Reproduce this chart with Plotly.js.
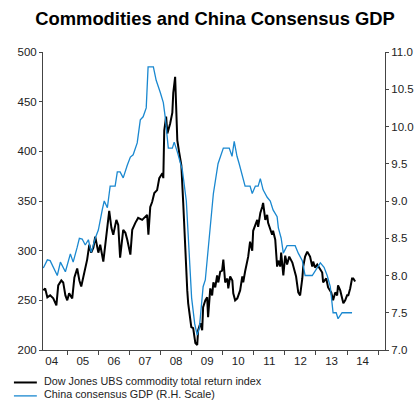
<!DOCTYPE html>
<html>
<head>
<meta charset="utf-8">
<script src="https://cdn.plot.ly/plotly-3.0.1.min.js"></script>
<style>html,body{margin:0;padding:0;background:#fff;}#chart{width:418px;height:400px;}</style>
</head>
<body>
<div id="chart"></div>
<script>
// ---- Data ----
const seriesNames = ["Dow Jones UBS commodity total return index", "China consensus GDP (R.H. Scale)"];
const chartTitle = "Commodities and China Consensus GDP";

// Dow Jones UBS commodity total return index (left scale), x in decimal years
const djYears = [
2004.23,2004.29,2004.36,2004.45,2004.55,2004.65,2004.71,2004.81,2004.87,2004.94,
2005.00,2005.06,2005.16,2005.23,2005.32,2005.39,2005.45,2005.51,2005.64,2005.71,
2005.77,2005.84,2005.90,2006.00,2006.06,2006.16,2006.25,2006.35,2006.42,2006.48,
2006.58,2006.64,2006.70,2006.80,2006.87,2006.93,2007.03,2007.09,2007.19,2007.28,
2007.41,2007.51,2007.57,2007.61,2007.67,2007.73,2007.80,2007.89,2007.96,2008.06,
2008.09,2008.12,2008.18,2008.22,2008.31,2008.38,2008.41,2008.47,2008.54,2008.60,
2008.67,2008.73,2008.79,2008.83,2008.86,2008.89,2008.92,2008.99,2009.05,2009.12,
2009.18,2009.21,2009.28,2009.34,2009.37,2009.44,2009.50,2009.53,2009.60,2009.66,
2009.70,2009.76,2009.82,2009.86,2009.92,2009.98,2010.02,2010.08,2010.15,2010.18,
2010.24,2010.31,2010.34,2010.40,2010.47,2010.50,2010.56,2010.63,2010.66,2010.72,
2010.79,2010.82,2010.88,2010.95,2010.98,2011.05,2011.11,2011.14,2011.21,2011.27,
2011.30,2011.37,2011.43,2011.46,2011.53,2011.59,2011.62,2011.69,2011.75,2011.79,
2011.85,2011.88,2011.95,2012.01,2012.07,2012.14,2012.24,2012.30,2012.36,2012.43,
2012.49,2012.56,2012.59,2012.65,2012.72,2012.81,2012.88,2012.91,2012.97,2013.04,
2013.14,2013.20,2013.23,2013.33,2013.39,2013.49,2013.55,2013.62,2013.68,2013.71,
2013.78,2013.84,2013.88,2013.94,2014.00,2014.04,2014.10,2014.16,2014.20,2014.26];
const djValues = [
260,262,253,255,252,245,265,270,268,255,
250,257,252,273,282,270,264,273,291,306,
298,303,314,298,306,289,312,340,323,316,
331,326,293,321,318,311,296,321,328,333,
331,334,336,316,344,349,358,361,373,378,
373,421,435,418,428,439,459,475,411,399,
386,348,300,270,260,247,240,223,222,207,
205,220,227,220,243,250,253,233,262,255,
268,263,275,268,279,280,291,268,272,262,
274,270,257,250,252,255,260,274,268,279,
288,294,309,300,320,326,331,324,338,344,
348,331,336,328,321,316,320,311,284,290,
284,298,275,295,286,294,288,281,274,258,
255,272,284,294,299,294,284,289,283,286,
281,278,268,272,263,258,250,258,255,265,
260,253,247,250,255,255,262,272,272,269];

// China consensus GDP (right scale, %)
const gdpYears = [
2004.23,2004.36,2004.45,2004.55,2004.68,2004.78,2004.94,2005.10,2005.19,2005.32,
2005.39,2005.48,2005.58,2005.68,2005.77,2005.90,2006.00,2006.13,2006.19,2006.29,
2006.38,2006.54,2006.61,2006.70,2006.80,2006.93,2007.03,2007.12,2007.25,2007.35,
2007.44,2007.54,2007.60,2007.77,2007.86,2007.99,2008.09,2008.15,2008.25,2008.38,
2008.44,2008.54,2008.70,2008.83,2008.92,2009.00,2009.10,2009.18,2009.25,2009.37,
2009.44,2009.53,2009.66,2009.70,2009.85,2010.02,2010.21,2010.30,2010.37,2010.46,
2010.53,2010.66,2010.72,2010.88,2010.95,2011.05,2011.14,2011.21,2011.30,2011.43,
2011.53,2011.62,2011.75,2011.79,2011.88,2011.95,2012.07,2012.33,2012.43,2012.56,
2012.65,2012.88,2013.04,2013.14,2013.26,2013.36,2013.46,2013.55,2013.65,2013.71,
2013.84,2014.16];
const gdpValues = [
8.1,8.21,8.2,8.11,8.0,8.18,8.05,8.29,8.18,8.38,
8.5,8.49,8.41,8.48,8.31,8.5,8.61,8.89,9.0,8.91,
9.2,9.2,9.39,9.39,9.31,9.48,9.59,9.62,9.78,10.09,
10.13,10.25,10.8,10.8,10.62,10.46,10.32,10.13,9.71,9.71,
9.79,9.66,9.42,9.0,8.3,7.7,7.35,7.2,7.3,7.85,
7.94,8.34,9.0,9.1,9.5,9.71,9.71,9.6,9.8,9.6,
9.5,9.31,9.2,9.2,9.1,9.2,9.2,9.3,9.15,9.05,
9.0,8.88,8.79,8.64,8.5,8.3,8.4,8.4,8.3,8.2,
8.0,8.0,8.11,8.17,8.11,8.0,7.85,7.5,7.5,7.42,
7.5,7.5];

const yearTicks = [2005,2006,2007,2008,2009,2010,2011,2012,2013,2014,2015];
const yearLabelPos = [2004.5,2005.5,2006.5,2007.5,2008.5,2009.5,2010.5,2011.5,2012.5,2013.5,2014.5];
const yearLabels = ["04","05","06","07","08","09","10","11","12","13","14"];
const leftTicks = [200,250,300,350,400,450,500];
const rightTicks = [7.0,7.5,8.0,8.5,9.0,9.5,10.0,10.5,11.0];

const blackColor = "#000000";
const blueColor = "#1a88d0";
const axisColor = "#444444";
const textColor = "#222222";
const fontFam = "Liberation Sans, Arial, sans-serif";

const traces = [
  {x: gdpYears, y: gdpValues, yaxis: "y2", type: "scatter", mode: "lines",
   line: {color: blueColor, width: 1.3}, name: seriesNames[1], showlegend: false, hoverinfo: "skip"},
  {x: djYears, y: djValues, yaxis: "y", type: "scatter", mode: "lines",
   line: {color: blackColor, width: 2}, name: seriesNames[0], showlegend: false, hoverinfo: "skip"}
];

// Manual legend (short samples, tight spacing as in reference)
const legendLineY = [-0.109, -0.154];
const legendTextY = [-0.104, -0.149];
const legendColors = [blackColor, blueColor];
const legendWidths = [2, 1.3];
const shapes = [];
const annotations = [];
for (let i = 0; i < seriesNames.length; i++) {
  shapes.push({type: "line", xref: "paper", yref: "paper", x0: -0.085, x1: -0.018,
    y0: legendLineY[i], y1: legendLineY[i], line: {color: legendColors[i], width: legendWidths[i]}});
  annotations.push({xref: "paper", yref: "paper", x: -0.003, y: legendTextY[i], xanchor: "left", yanchor: "middle",
    text: seriesNames[i], showarrow: false, font: {family: fontFam, size: 10.8, color: textColor}});
}

const layout = {
  width: 418, height: 400,
  margin: {l: 43, r: 33, t: 52, b: 50, pad: 0},
  paper_bgcolor: "#ffffff", plot_bgcolor: "#ffffff",
  font: {family: fontFam, size: 12, color: textColor},
  title: {text: "<b>" + chartTitle + "</b>", x: 0.503, xref: "paper", xanchor: "center", y: 0.953, yanchor: "middle",
    font: {family: fontFam, size: 18.4, color: "#000000"}},
  showlegend: false,
  xaxis: {type: "linear", range: [2004.22, 2015.22], showgrid: false, zeroline: false,
    showline: true, linecolor: axisColor, linewidth: 1,
    tickmode: "array", tickvals: yearLabelPos, ticktext: yearLabels, ticks: "",
    tickfont: {family: fontFam, size: 11.5, color: textColor},
    minor: {tickmode: "array", tickvals: yearTicks, ticks: "outside", ticklen: 4, tickcolor: axisColor, showgrid: false}},
  yaxis: {range: [200, 500], tickmode: "array", tickvals: leftTicks, showgrid: false, zeroline: false,
    showline: true, linecolor: axisColor, linewidth: 1, ticks: "outside", ticklen: 3, tickcolor: axisColor,
    tickfont: {family: fontFam, size: 11.5, color: textColor}},
  yaxis2: {range: [7, 11], overlaying: "y", side: "right", tickmode: "array", tickvals: rightTicks,
    tickformat: ".1f", showgrid: false, zeroline: false, showline: true, linecolor: axisColor, linewidth: 1,
    ticks: "outside", ticklen: 3, tickcolor: axisColor, tickfont: {family: fontFam, size: 11.5, color: textColor}},
  shapes: shapes,
  annotations: annotations
};

Plotly.newPlot("chart", traces, layout, {staticPlot: true, displayModeBar: false});
</script>
</body>
</html>
